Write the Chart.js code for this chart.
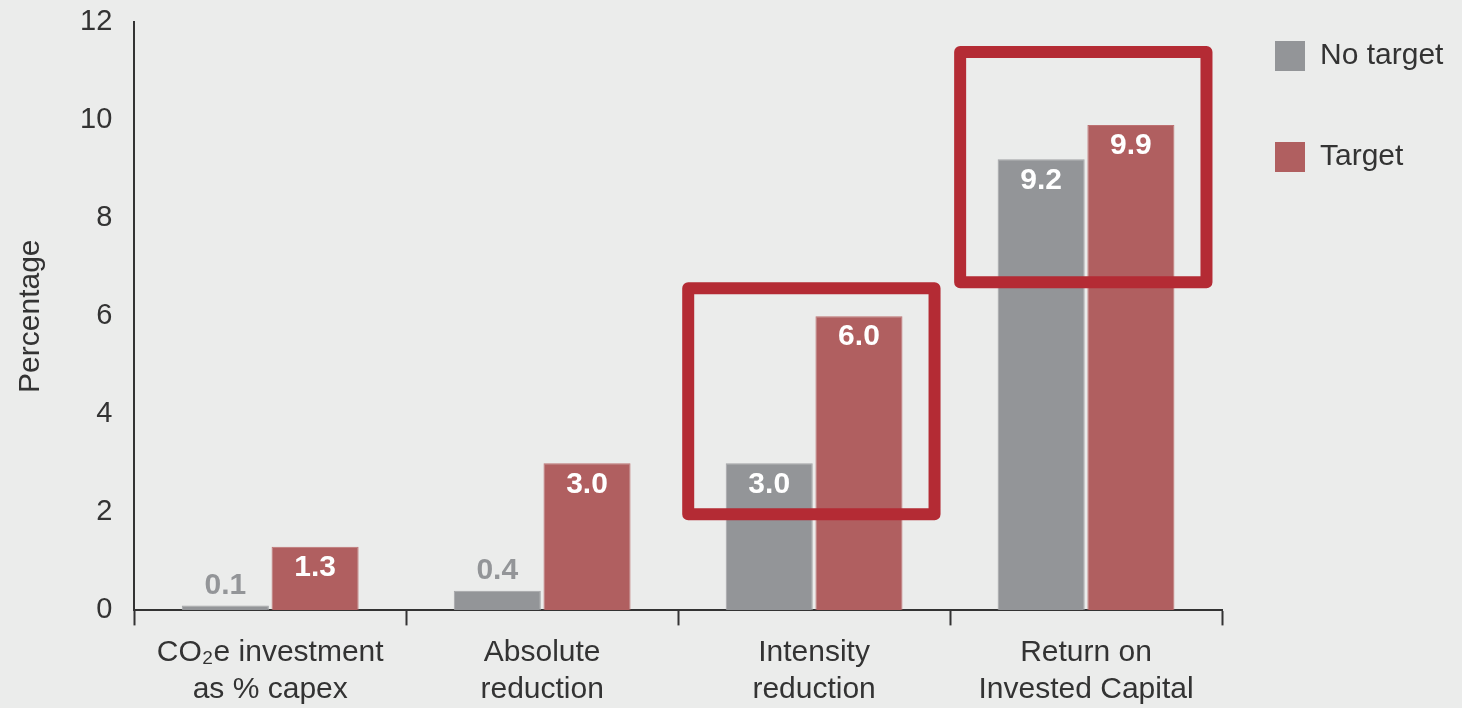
<!DOCTYPE html>
<html>
<head>
<meta charset="utf-8">
<script src="https://cdn.jsdelivr.net/npm/chart.js@4.4.0/dist/chart.umd.min.js"></script>
<style>
  html, body { margin: 0; padding: 0; background: #ebeceb; }
</style>
</head>
<body>
<canvas id="chart" width="1462" height="708"></canvas>
<script>
// data
const categories = [
  ['CO\u2082e investment', 'as % capex'],
  ['Absolute', 'reduction'],
  ['Intensity', 'reduction'],
  ['Return on', 'Invested Capital']
];
const noTargetValues = [0.1, 0.4, 3.0, 9.2];
const targetValues = [1.3, 3.0, 6.0, 9.9];
const seriesNames = ['No target', 'Target'];

// red boxes that highlight two categories (value range on the y scale)
const highlightCats = [2, 3];
const highlightFrom = [1.84, 6.57];
const highlightTo = [6.69, 11.51];

const GRAY = '#939598';
const RED = '#b05f60';
const TEXT = '#333333';
const FONT = "'Liberation Sans', Arial, sans-serif";

// etiquetas de valor
const valueLabels = {
  id: 'valueLabels',
  afterDatasetsDraw(chart) {
    const ctx = chart.ctx;
    ctx.save();
    ctx.font = 'bold 30px ' + FONT;
    ctx.textAlign = 'center';
    ctx.textBaseline = 'middle';
    chart.data.datasets.forEach((ds, i) => {
      chart.getDatasetMeta(i).data.forEach((bar, j) => {
        const v = ds.data[j];
        if (v < 1) {
          ctx.fillStyle = ds.backgroundColor;
          ctx.fillText(v.toFixed(1), bar.x, bar.y - 20);
        } else {
          ctx.fillStyle = '#ffffff';
          ctx.fillText(v.toFixed(1), bar.x, bar.y + 21);
        }
      });
    });
    ctx.restore();
  }
};

const highlights = {
  id: 'highlights',
  afterDatasetsDraw(chart) {
    const { ctx, scales: { x, y } } = chart;
    const w = x.getPixelForValue(1) - x.getPixelForValue(0);
    ctx.save();
    ctx.strokeStyle = '#b42b34';
    ctx.lineWidth = 12;
    ctx.lineJoin = 'round';
    highlightCats.forEach((c, k) => {
      const cx = x.getPixelForValue(c);
      const left = cx - 0.485 * w + 6;
      const right = cx + 0.465 * w - 6;
      const top = y.getPixelForValue(highlightTo[k]) + 6;
      const bottom = y.getPixelForValue(highlightFrom[k]) - 6;
      ctx.strokeRect(left, top, right - left, bottom - top);
    });
    ctx.restore();
  }
};

const sideLegend = {
  id: 'sideLegend',
  afterDraw(chart) {
    const ctx = chart.ctx;
    const x0 = chart.chartArea.right + 53;
    ctx.save();
    ctx.font = '30px ' + FONT;
    ctx.textBaseline = 'middle';
    chart.data.datasets.forEach((ds, i) => {
      const y0 = 41 + i * 101;
      ctx.fillStyle = ds.backgroundColor;
      ctx.fillRect(x0, y0, 30, 30);
      ctx.fillStyle = TEXT;
      ctx.fillText(ds.label, x0 + 45, y0 + 15);
    });
    ctx.restore();
  }
};

new Chart(document.getElementById('chart'), {
  type: 'bar',
  data: {
    labels: categories,
    datasets: [
      {
        label: seriesNames[0],
        data: noTargetValues,
        backgroundColor: GRAY,
        borderColor: '#a3a4a7',
        borderWidth: 1,
        categoryPercentage: 0.66,
        barPercentage: 0.97
      },
      {
        label: seriesNames[1],
        data: targetValues,
        backgroundColor: RED,
        borderColor: '#bd7172',
        borderWidth: 1,
        categoryPercentage: 0.66,
        barPercentage: 0.97
      }
    ]
  },
  options: {
    responsive: false,
    animation: false,
    devicePixelRatio: 1,
    layout: { padding: { left: 13, right: 240, top: 22, bottom: -9 } },
    plugins: {
      legend: { display: false },
      tooltip: { enabled: false }
    },
    scales: {
      x: {
        grid: {
          offset: true,
          drawOnChartArea: false,
          drawTicks: true,
          tickLength: 15,
          tickWidth: 2,
          tickColor: '#333'
        },
        border: { color: '#333', width: 2 },
        ticks: {
          color: TEXT,
          padding: 8,
          font: { family: FONT, size: 30, lineHeight: 1.26 },
          maxRotation: 0
        }
      },
      y: {
        min: 0,
        max: 12,
        grid: { drawOnChartArea: false, drawTicks: true, tickLength: 22, tickColor: 'rgba(0,0,0,0)' },
        border: { color: '#333', width: 2 },
        ticks: {
          stepSize: 2,
          color: TEXT,
          padding: 0,
          font: { family: FONT, size: 29 }
        },
        title: {
          display: true,
          text: 'Percentage',
          color: TEXT,
          font: { family: FONT, size: 30 },
          padding: { top: 0, bottom: 31 }
        }
      }
    }
  },
  plugins: [valueLabels, highlights, sideLegend]
});
</script>
</body>
</html>
